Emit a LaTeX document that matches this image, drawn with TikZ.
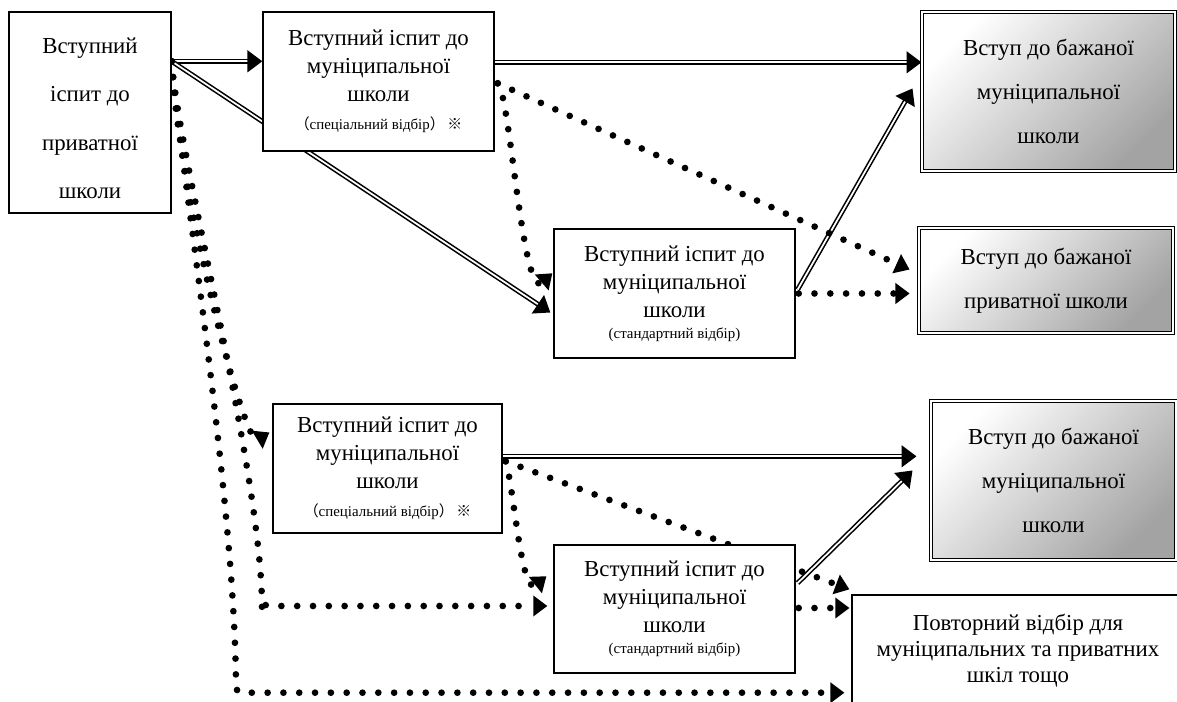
\documentclass[tikz,border=0pt]{standalone}
\usepackage{fontspec}
\setmainfont{Liberation Serif}
\newfontfamily\cjk{Noto Sans CJK JP}
\usetikzlibrary{calc,arrows.meta}
\pgfdeclarelayer{back}
\pgfdeclarelayer{lines}
\pgfsetlayers{back,lines,main}

\tikzset{
  box/.style={draw, line width=0.8pt, fill=white, align=center, inner sep=0pt, font=\fontsize{13}{16}\selectfont},
  goal/.style={draw, double, double distance=1.3pt, line width=0.6pt, top color=white, bottom color=gray!72, shading angle=45, align=center, inner sep=0pt, font=\fontsize{13}{25}\selectfont},
  dline/.style={double, double distance=1pt, line width=0.9pt, -{Triangle[length=8.5pt,width=12.5pt]}},
  dotline/.style={line width=3.8pt, line cap=round, dash pattern=on 0pt off 9pt, -{Triangle[length=8pt,width=12pt,line width=0pt]}},
}
\newcommand{\smalltxt}[1]{{\fontsize{8.5}{10}\selectfont #1}}

\begin{document}
\begin{tikzpicture}[x=0.02cm, y=-0.02cm]
	\useasboundingbox (0,0) rectangle (1177,702);
	\begin{pgfonlayer}{back}
		\fill[white] (0,0) rectangle (1177,702);
	\end{pgfonlayer}
	% exam boxes
	\node[box, minimum width=3.24cm, minimum height=4.02cm, font=\fontsize{13}{27.5}\selectfont] (priv) at (90,112.5) {\\[-12pt]Вступний\\іспит до\\приватної\\школи};
	\node[box, minimum width=4.62cm, minimum height=2.78cm] (spec) at (378.5,81.5) {Вступний іспит до\\муніципальної\\школи\\\smalltxt{{\cjk （}спеціальний відбір{\cjk ）}\,{\cjk ※}}};
	\node[box, minimum width=4.82cm, minimum height=2.58cm] (std) at (674.5,293.5) {Вступний іспит до\\муніципальної\\школи\\[-4pt]\smalltxt{(стандартний відбір)}};
	\node[box, minimum width=4.58cm, minimum height=2.58cm] (spec2) at (387.5,468.5) {Вступний іспит до\\муніципальної\\школи\\\smalltxt{{\cjk （}спеціальний відбір{\cjk ）}\,{\cjk ※}}};
	\node[box, minimum width=4.82cm, minimum height=2.56cm] (std2) at (674.5,609) {Вступний іспит до\\муніципальної\\школи\\[-4pt]\smalltxt{(стандартний відбір)}};
	% results
	\node[goal, minimum width=5.06cm, minimum height=3.18cm] (munok) at (1048.5,91.5) {Вступ до бажаної\\муніципальної\\школи};
	\node[goal, minimum width=5.08cm, minimum height=2.1cm] (privok) at (1046,280.5) {Вступ до бажаної\\приватної школи};
	\node[goal, minimum width=4.9cm, minimum height=3.18cm] (munok2) at (1053.5,480.5) {Вступ до бажаної\\муніципальної\\школи};
	\node[box, minimum width=6.64cm, minimum height=2.24cm, font=\fontsize{13}{14.7}\selectfont] (retry) at (1018,651) {Повторний відбір для\\муніципальних та приватних\\шкіл тощо};

	\coordinate (p0) at ($(priv.north east)+(0,50)$);
	\coordinate (s0) at ($(spec.north east)+(0,51)$);
	\coordinate (s1) at ($(spec.north east)+(3,72)$);
	\coordinate (t0) at ($(spec2.north east)+(0,53)$);
	\coordinate (t1) at ($(spec2.north east)+(3,58)$);
	\coordinate (k1) at (262,600);
	\coordinate (k2) at (236,682);

	\begin{pgfonlayer}{lines}
	% upper part
	\draw[dline] (p0) -- (p0 -| spec.west);
	\draw[dline] (p0) -- ($(std.west)+(-3,19)$);
	\draw[dline] (s0) -- (s0 -| munok.west);
	\draw[dline] ($(std.east)+(2,-4)$) -- ($(munok.west)+(-9,-3)$);
	\draw[dotline] (s1) -- ($(privok.west)+(-9,-11)$);
	\draw[dotline] (s1) .. controls +(12,8) and +(-30,26) .. ($(std.north west)+(-1,45)$);
	\draw[dotline] ($(std.east)+(3,0)$) -- ($(privok.west)+(-9,13)$);
	% lower part
	\draw[dotline] (p0) .. controls +(5,120) and +(-25,15) .. ($(spec2.west)+(-3,-36)$);
	\draw[dotline, rounded corners=4pt] (p0) .. controls +(6,90) and +(-6,-150) .. (k1) |- ($(std2.west)+(-6,-3)$);
	\draw[dotline, rounded corners=3pt] (p0) .. controls +(5,80) and +(-3,-200) .. (k2) |- ($(retry.south west)+(-7,-15)$);
	\draw[dline] (t0) -- ($(t0 -| munok2.west)+(-14,0)$);
	\draw[dline] ($(std2.east)+(2,-26)$) -- ($(munok2.west)+(-18,-10)$);
	\draw[dotline] (t1) .. controls +(8,25) and +(-25,20) .. ($(std2.north west)+(-7,32)$);
	\draw[dotline] (t1) -- ($(retry.north west)+(-2,-5)$);
	\draw[dotline] ($(std2.east)+(3,-1)$) -- ($(retry.west |- std2.east)+(-2,-1)$);
	\end{pgfonlayer}
\end{tikzpicture}
\end{document}
